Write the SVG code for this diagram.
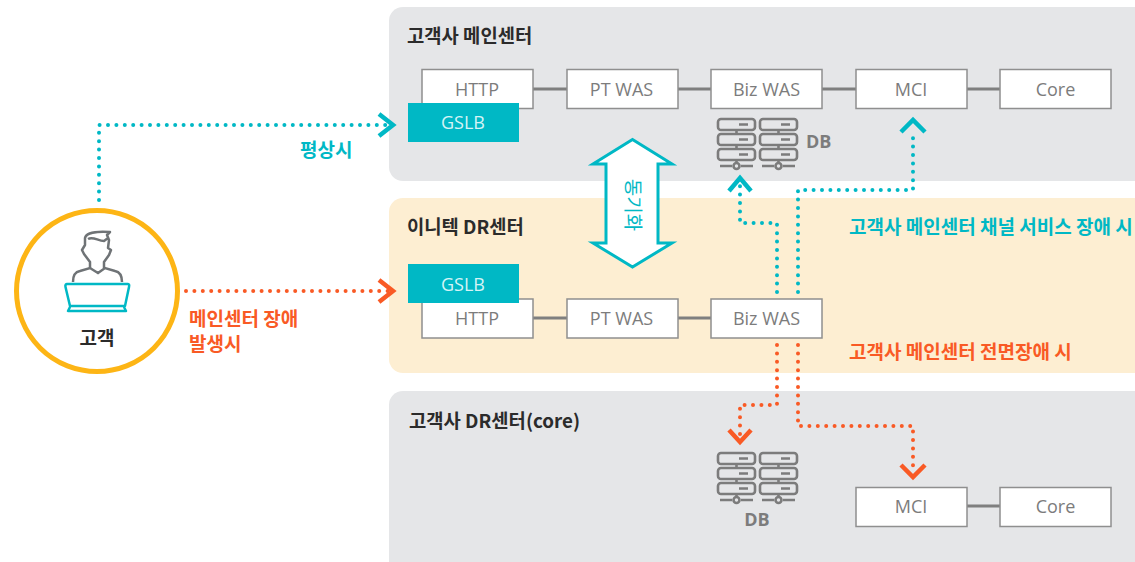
<svg xmlns="http://www.w3.org/2000/svg" width="1135" height="562" viewBox="0 0 1135 562">
<style>
text{font-family:"Open Sans","Noto Sans CJK KR",sans-serif}
.title{font-size:18.800px;font-weight:700;fill:#2b2b2b;font-family:"Noto Sans CJK KR","Open Sans",sans-serif}
.box{fill:#fff;stroke:#8f8f8f;stroke-width:1.5}
.lbl{font-size:18px;fill:#7c7c7c;text-anchor:middle}
.gslb{fill:#00b8c5}
.gl{font-size:18px;fill:#d5f4f6;text-anchor:middle}
.link{stroke:#7f7f7f;stroke-width:3;fill:none}
.t{fill:none;stroke:#00b8c5;stroke-width:4;stroke-linecap:round;stroke-dasharray:0 8.4}
.o{fill:none;stroke:#f95a25;stroke-width:4;stroke-linecap:round;stroke-dasharray:0 8.4}
.tc{fill:none;stroke:#00b8c5;stroke-width:4.5}
.oc{fill:none;stroke:#f95a25;stroke-width:4.5}
.tt{font-size:19px;font-weight:700;fill:#00b8c5;font-family:"Noto Sans CJK KR",sans-serif}
.ot{font-size:19px;font-weight:700;fill:#f95a25;font-family:"Noto Sans CJK KR",sans-serif}
.db{font-size:18px;font-weight:700;fill:#7c7c7c}
.s{fill:none;stroke:#7c7c7c;stroke-width:2.6}
</style>
<defs>
<g id="stack">
<rect class="s" x="1" y="1" width="37" height="11" rx="3"/>
<rect class="s" x="1" y="16" width="37" height="11" rx="3"/>
<rect class="s" x="1" y="31" width="37" height="11" rx="3"/>
<path class="s" d="M22 6.500h9M22 21.500h9M22 36.500h9M19.500 12v4M19.500 27v4M19.500 42v3.500M3 48h12M24 48h12"/>
<circle class="s" cx="19.500" cy="48" r="3"/>
</g>
<g id="servers"><use href="#stack"/><use href="#stack" x="42"/></g>
</defs>

<g id="panel-main"><rect x="389" y="7" width="770" height="174" rx="14" fill="#e5e6e8"/></g>
<g id="panel-dr"><rect x="389" y="198" width="770" height="175" rx="14" fill="#fdeed2"/></g>
<g id="panel-core"><rect x="389" y="391" width="770" height="190" rx="14" fill="#e5e6e8"/></g>
<text class="title" x="407" y="43">고객사 메인센터</text>
<text class="title" x="407" y="234">이니텍 DR센터</text>
<text class="title" x="409" y="428">고객사 DR센터(core)</text>

<g id="connectors">
<path class="link" d="M533 89H567M678 89H711M822 89H856M967 89H1000"/>
<path class="link" d="M533 318H567M678 318H711"/>
<path class="link" d="M967 506H1000"/>
<path class="t" d="M99 200V125H392"/>
<path class="tc" d="M379 114L393 125L379 136"/>
<path class="o" d="M186 291H392"/>
<path class="oc" d="M379 280L393 291L379 302"/>
<path class="t" d="M777 292V223H740V180"/>
<path class="tc" d="M729 191L740 178L751 191"/>
<path class="t" d="M798 292V190H913V130"/>
<path class="tc" d="M901 132L913 120L925 132"/>
<path class="o" d="M777 345V405H740V435"/>
<path class="oc" d="M729 430L740 442L751 430"/>
<path class="o" d="M798 345V426H913V470"/>
<path class="oc" d="M901 465L913 477L925 465"/>
</g>

<g id="sync">
<path d="M632.500 139.500L672 164H658V243H672L632.500 267L593 243H606V164H593Z" fill="#fff" stroke="#00b8c5" stroke-width="3" stroke-miterlimit="10"/>
<text transform="translate(626,205) rotate(90)" font-size="19" fill="#00b8c5" text-anchor="middle" style="font-family:'Noto Sans CJK KR',sans-serif">동기화</text>
</g>

<g id="node-customer">
<circle cx="97" cy="291" r="80.500" fill="#fff" stroke="#fdb515" stroke-width="5"/>
<path d="M73 282C73 275 75 272 80 271L90 268L98 273L105 268L115 271C120 272 122 276 122 282" fill="none" stroke="#6f7376" stroke-width="2.500"/>
<path d="M90 268L90 262L84 254L82 250L85 245L85 238C86 233 96 231 110 232L107 235L109 240L108 248L111 250L109 255L104 262L104 268M88 239C93 236 98 241 104 241L108 238" fill="none" stroke="#6f7376" stroke-width="2.500" stroke-linejoin="round"/>
<path d="M67 284H128C129 284 129.500 285 129 287L125 306H70L65.500 287C65 285 66 284 67 284ZM70 307L68 311H126L124 307" fill="#fff" stroke="#00b8c5" stroke-width="2.500" stroke-linejoin="round"/>
<text x="97" y="345" font-size="19" font-weight="700" fill="#2b2b2b" text-anchor="middle" style="font-family:'Noto Sans CJK KR',sans-serif">고객</text>
</g>

<text class="ot" x="189" y="326">메인센터 장애</text>
<text class="ot" x="189" y="351">발생시</text>
<text class="tt" x="300" y="157">평상시</text>

<g id="node-http-1"><rect class="box" x="422" y="69.500" width="111" height="39"/><text class="lbl" x="477" y="96">HTTP</text></g>
<g id="node-pt-1"><rect class="box" x="567" y="69.500" width="111" height="39"/><text class="lbl" x="621.500" y="96">PT WAS</text></g>
<g id="node-biz-1"><rect class="box" x="711" y="69.500" width="111" height="39"/><text class="lbl" x="766.500" y="96">Biz WAS</text></g>
<g id="node-mci-1"><rect class="box" x="856" y="69.500" width="111" height="39"/><text class="lbl" x="911" y="96">MCI</text></g>
<g id="node-core-1"><rect class="box" x="1000" y="69.500" width="111" height="39"/><text class="lbl" x="1055.500" y="96">Core</text></g>
<g id="node-gslb-1"><rect class="gslb" x="408" y="103" width="111" height="39"/><text class="gl" x="463" y="129">GSLB</text></g>
<g id="node-db-1"><use href="#servers" x="717" y="118"/><text class="db" x="806" y="148">DB</text></g>

<g id="node-http-2"><rect class="box" x="422" y="299" width="111" height="39"/><text class="lbl" x="477" y="325">HTTP</text></g>
<g id="node-pt-2"><rect class="box" x="567" y="299" width="111" height="39"/><text class="lbl" x="621.500" y="325">PT WAS</text></g>
<g id="node-biz-2"><rect class="box" x="711" y="299" width="111" height="39"/><text class="lbl" x="766.500" y="325">Biz WAS</text></g>
<g id="node-gslb-2"><rect class="gslb" x="408" y="264" width="111" height="39"/><text class="gl" x="463" y="291">GSLB</text></g>

<text class="tt" x="849" y="234">고객사 메인센터 채널 서비스 장애 시</text>
<text class="ot" x="849" y="359">고객사 메인센터 전면장애 시</text>

<g id="node-db-2"><use href="#servers" x="717" y="452"/><text class="db" x="757" y="526" text-anchor="middle">DB</text></g>
<g id="node-mci-2"><rect class="box" x="856" y="487.500" width="111" height="39"/><text class="lbl" x="911" y="513">MCI</text></g>
<g id="node-core-2"><rect class="box" x="1000" y="487.500" width="111" height="39"/><text class="lbl" x="1055.500" y="513">Core</text></g>
</svg>
